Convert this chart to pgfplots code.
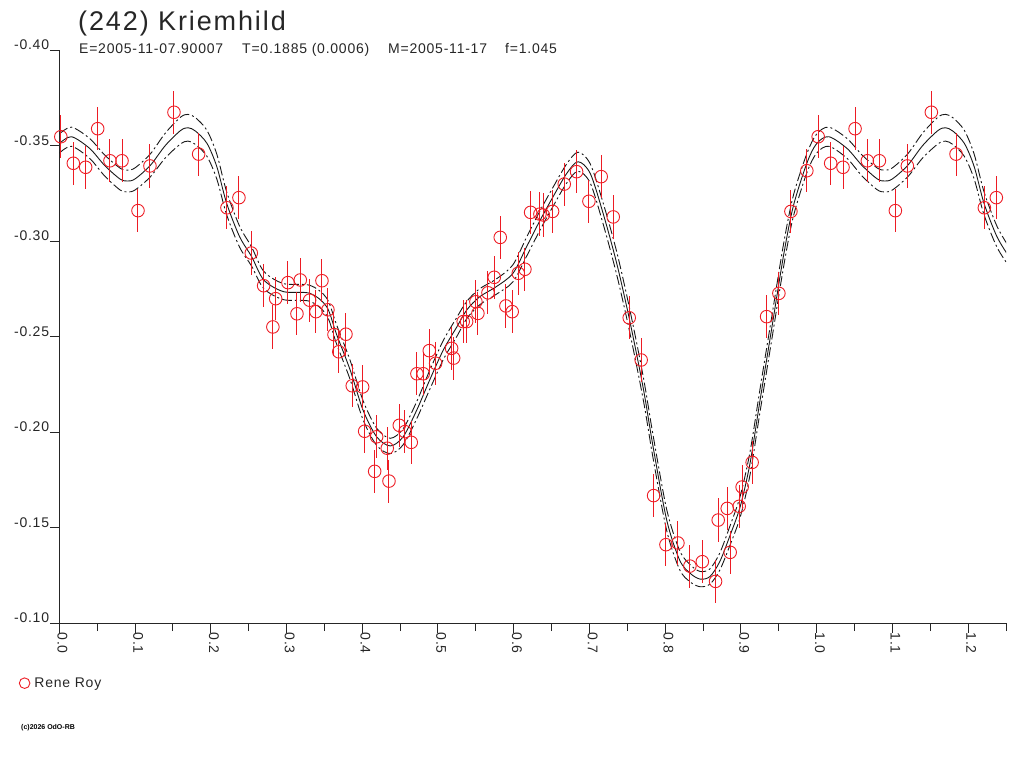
\documentclass[border=0pt]{standalone}
\usepackage{pgfplots}
\pgfplotsset{compat=1.18}
\usepackage{pgfplotstable}
\usepackage{fontspec}
\setmainfont{Liberation Sans}
\definecolor{obsred}{RGB}{237,28,36}

\pgfplotstableread{
x y e
0.0020 -0.3546 0.0113
0.0185 -0.3407 0.0113
0.0348 -0.3386 0.0113
0.0507 -0.3588 0.0113
0.0669 -0.3420 0.0113
0.0828 -0.3420 0.0113
0.1039 -0.3159 0.0113
0.1197 -0.3393 0.0113
0.1514 -0.3674 0.0113
0.1840 -0.3455 0.0113
0.2214 -0.3174 0.0113
0.2372 -0.3227 0.0113
0.2535 -0.2937 0.0113
0.2698 -0.2766 0.0113
0.2857 -0.2698 0.0113
0.2820 -0.2550 0.0113
0.3019 -0.2782 0.0113
0.3182 -0.2796 0.0113
0.3138 -0.2619 0.0113
0.3305 -0.2690 0.0113
0.3389 -0.2630 0.0113
0.3468 -0.2792 0.0113
0.3547 -0.2640 0.0113
0.3627 -0.2510 0.0113
0.3690 -0.2420 0.0113
0.3785 -0.2512 0.0113
0.3868 -0.2242 0.0113
0.4005 -0.2236 0.0113
0.4032 -0.2004 0.0113
0.4190 -0.1975 0.0113
0.4164 -0.1794 0.0113
0.4330 -0.1915 0.0113
0.4353 -0.1743 0.0113
0.4489 -0.2035 0.0113
0.4564 -0.2002 0.0113
0.4647 -0.1946 0.0113
0.4722 -0.2305 0.0113
0.4805 -0.2305 0.0113
0.4885 -0.2426 0.0113
0.4969 -0.2360 0.0113
0.5180 -0.2438 0.0113
0.5207 -0.2387 0.0113
0.5333 -0.2578 0.0113
0.5378 -0.2578 0.0113
0.5501 -0.2682 0.0113
0.5527 -0.2621 0.0113
0.5660 -0.2729 0.0113
0.5743 -0.2810 0.0113
0.5822 -0.3019 0.0113
0.5897 -0.2660 0.0113
0.5980 -0.2630 0.0113
0.6060 -0.2831 0.0113
0.6148 -0.2852 0.0113
0.6223 -0.3150 0.0113
0.6346 -0.3141 0.0113
0.6390 -0.3136 0.0113
0.6513 -0.3155 0.0113
0.6667 -0.3298 0.0113
0.6830 -0.3363 0.0113
0.6993 -0.3208 0.0113
0.7155 -0.3337 0.0113
0.7314 -0.3126 0.0113
0.7525 -0.2598 0.0113
0.7683 -0.2377 0.0113
0.7847 -0.1667 0.0113
0.8010 -0.1410 0.0113
0.8168 -0.1419 0.0113
0.8326 -0.1298 0.0113
0.8490 -0.1321 0.0113
0.8665 -0.1218 0.0113
0.8700 -0.1539 0.0113
0.8858 -0.1370 0.0113
0.8819 -0.1600 0.0113
0.8977 -0.1611 0.0113
0.9016 -0.1712 0.0113
0.9148 -0.1841 0.0113
0.9339 -0.2604 0.0113
0.9501 -0.2726 0.0113
0.9660 -0.3155 0.0113
0.9870 -0.3368 0.0113
1.0020 -0.3546 0.0113
1.0185 -0.3407 0.0113
1.0348 -0.3386 0.0113
1.0507 -0.3588 0.0113
1.0669 -0.3420 0.0113
1.0828 -0.3420 0.0113
1.1039 -0.3159 0.0113
1.1197 -0.3393 0.0113
1.1514 -0.3674 0.0113
1.1840 -0.3455 0.0113
1.2214 -0.3174 0.0113
1.2372 -0.3227 0.0113
}\obs

\pgfplotstableread{
x m u l
0.000 -0.3510 -0.3560 -0.3460
0.016 -0.3546 -0.3596 -0.3496
0.040 -0.3485 -0.3537 -0.3433
0.060 -0.3395 -0.3450 -0.3340
0.080 -0.3325 -0.3382 -0.3268
0.090 -0.3314 -0.3371 -0.3257
0.100 -0.3325 -0.3383 -0.3267
0.120 -0.3395 -0.3455 -0.3335
0.140 -0.3500 -0.3565 -0.3435
0.160 -0.3578 -0.3648 -0.3508
0.170 -0.3593 -0.3663 -0.3523
0.180 -0.3575 -0.3645 -0.3505
0.195 -0.3511 -0.3579 -0.3443
0.208 -0.3389 -0.3454 -0.3324
0.221 -0.3197 -0.3257 -0.3137
0.238 -0.3023 -0.3078 -0.2968
0.254 -0.2918 -0.2968 -0.2868
0.270 -0.2796 -0.2841 -0.2751
0.296 -0.2735 -0.2777 -0.2693
0.331 -0.2726 -0.2768 -0.2684
0.353 -0.2656 -0.2701 -0.2611
0.366 -0.2512 -0.2562 -0.2462
0.384 -0.2325 -0.2375 -0.2275
0.401 -0.2115 -0.2165 -0.2065
0.419 -0.1975 -0.2020 -0.1930
0.437 -0.1927 -0.1967 -0.1887
0.454 -0.1975 -0.2017 -0.1933
0.472 -0.2115 -0.2160 -0.2070
0.489 -0.2272 -0.2322 -0.2222
0.507 -0.2429 -0.2479 -0.2379
0.525 -0.2551 -0.2601 -0.2501
0.538 -0.2639 -0.2684 -0.2594
0.555 -0.2708 -0.2750 -0.2666
0.577 -0.2761 -0.2801 -0.2721
0.599 -0.2831 -0.2876 -0.2786
0.617 -0.2970 -0.3020 -0.2920
0.635 -0.3110 -0.3160 -0.3060
0.652 -0.3232 -0.3282 -0.3182
0.670 -0.3354 -0.3404 -0.3304
0.685 -0.3415 -0.3465 -0.3365
0.701 -0.3354 -0.3404 -0.3304
0.718 -0.3145 -0.3200 -0.3090
0.736 -0.2883 -0.2943 -0.2823
0.753 -0.2586 -0.2646 -0.2526
0.771 -0.2230 -0.2290 -0.2170
0.784 -0.1923 -0.1983 -0.1863
0.802 -0.1539 -0.1594 -0.1484
0.819 -0.1330 -0.1380 -0.1280
0.833 -0.1260 -0.1305 -0.1215
0.846 -0.1230 -0.1270 -0.1190
0.859 -0.1243 -0.1283 -0.1203
0.872 -0.1321 -0.1366 -0.1276
0.885 -0.1452 -0.1502 -0.1402
0.899 -0.1609 -0.1664 -0.1554
0.912 -0.1836 -0.1896 -0.1776
0.925 -0.2160 -0.2220 -0.2100
0.941 -0.2551 -0.2611 -0.2491
0.956 -0.2918 -0.2978 -0.2858
0.969 -0.3180 -0.3235 -0.3125
0.987 -0.3407 -0.3457 -0.3357
1.000 -0.3510 -0.3560 -0.3460
1.016 -0.3546 -0.3596 -0.3496
1.040 -0.3485 -0.3537 -0.3433
1.060 -0.3395 -0.3450 -0.3340
1.080 -0.3325 -0.3382 -0.3268
1.090 -0.3314 -0.3371 -0.3257
1.100 -0.3325 -0.3383 -0.3267
1.120 -0.3395 -0.3455 -0.3335
1.140 -0.3500 -0.3565 -0.3435
1.160 -0.3578 -0.3648 -0.3508
1.170 -0.3593 -0.3663 -0.3523
1.180 -0.3575 -0.3645 -0.3505
1.195 -0.3511 -0.3579 -0.3443
1.208 -0.3389 -0.3454 -0.3324
1.221 -0.3197 -0.3257 -0.3137
1.238 -0.3023 -0.3078 -0.2968
1.254 -0.2918 -0.2968 -0.2868
}\fit

\newcommand{\lbl}{\fontsize{14}{16}\selectfont\addfontfeatures{LetterSpace=5.5}}

\begin{document}
\begin{tikzpicture}[x=1pt,y=1pt]
\path[use as bounding box] (0,0) rectangle (1024,768);
\begin{axis}[
  at={(59.3pt,145pt)}, anchor=south west,
  scale only axis, width=946.7pt, height=573pt,
  xmin=0, xmax=1.25, ymin=-0.40, ymax=-0.10,
  y dir=reverse,
  axis x line*=bottom, axis y line*=left,
  axis line style={black!85, line width=1pt, -},
  tick style={black!85, line width=1pt},
  tick align=outside,
  major tick length=9.5pt, minor tick length=8pt,
  xtick={0,0.1,...,1.2},
  minor xtick={0.05,0.15,...,1.25},
  xticklabels={0.0,0.1,0.2,0.3,0.4,0.5,0.6,0.7,0.8,0.9,1.0,1.1,1.2},
  ytick={-0.40,-0.35,-0.30,-0.25,-0.20,-0.15,-0.10},
  yticklabels={-0.40,-0.35,-0.30,-0.25,-0.20,-0.15,-0.10},
  ticklabel style={font=\lbl, text=black!85},
  xticklabel style={rotate=-90, anchor=south west, inner sep=0pt, yshift=-2pt},
  yticklabel style={anchor=south east, inner sep=0pt, xshift=-0.5pt},
  clip mode=individual,
  legend style={at={(-0.0435,-0.105)}, anchor=west, draw=none, fill=none,
    font=\lbl, text=black!85, inner sep=1pt,
    legend cell align=left},
  legend image post style={mark size=5.3pt},
]
\addplot[black!90, line width=0.9pt, smooth, forget plot] table[x=x,y=m] {\fit};
\addplot[black!90, line width=0.9pt, smooth, dash pattern=on 10pt off 3pt on 2pt off 3pt, forget plot] table[x=x,y=u] {\fit};
\addplot[black!90, line width=0.9pt, smooth, dash pattern=on 10pt off 3pt on 2pt off 3pt, forget plot] table[x=x,y=l] {\fit};
\addplot[only marks, mark=o, mark size=6.3pt, mark options={obsred, line width=0.9pt},
  error bars/.cd, y dir=both, y explicit, error mark=none,
  error bar style={obsred, line width=1pt}]
  table[x=x, y=y, y error=e] {\obs};
\addlegendentry{\hspace{2.5pt}Rene Roy}
\end{axis}
\node[anchor=base west, inner sep=0pt, text=black!85] at (78,737) {\fontsize{27}{30}\selectfont\addfontfeatures{LetterSpace=7} (242) Kriemhild};
\node[anchor=base west, inner sep=0pt, text=black!85] at (79,714.5) {\lbl E=2005-11-07.90007};
\node[anchor=base west, inner sep=0pt, text=black!85] at (242,714.5) {\lbl T=0.1885 (0.0006)};
\node[anchor=base west, inner sep=0pt, text=black!85] at (388,714.5) {\lbl M=2005-11-17};
\node[anchor=base west, inner sep=0pt, text=black!85] at (505,714.5) {\lbl f=1.045};
\node[anchor=base west, inner sep=0pt, text=black] at (21,39) {\fontsize{7}{8}\selectfont\bfseries (c)2026 OdO-RB};
\end{tikzpicture}
\end{document}
